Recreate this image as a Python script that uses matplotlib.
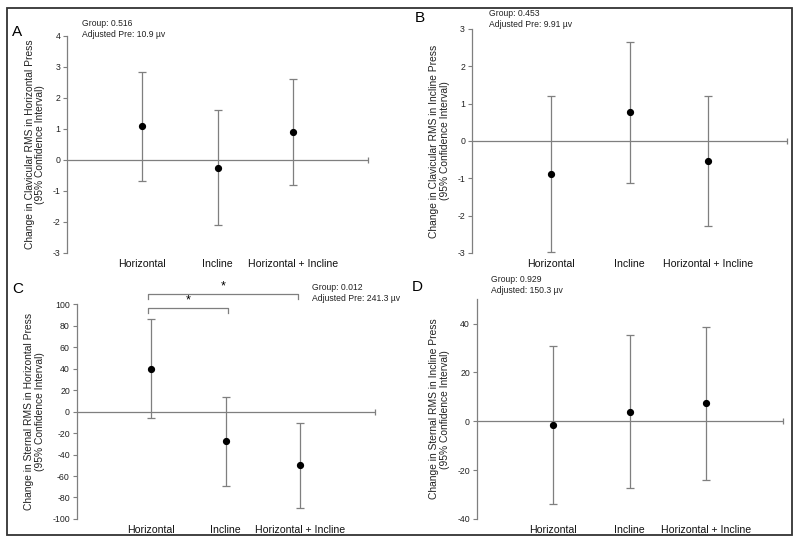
import numpy as np
import matplotlib
matplotlib.use('Agg')
import matplotlib.pyplot as plt
from matplotlib.patches import Rectangle

plt.rcParams['font.family'] = ['Liberation Sans', 'DejaVu Sans']
plt.rcParams['axes.unicode_minus'] = False

groups = ['Horizontal', 'Incline', 'Horizontal + Incline']

# A - clavicular RMS, horizontal press
a_mean = [1.1, -0.25, 0.9]
a_low = [-0.68, -2.1, -0.82]
a_high = [2.85, 1.6, 2.6]
# B - clavicular RMS, incline press
b_mean = [-0.88, 0.77, -0.55]
b_low = [-2.97, -1.12, -2.28]
b_high = [1.2, 2.65, 1.2]
# C - sternal RMS, horizontal press
c_mean = [40, -27.5, -50]
c_low = [-6, -69, -90]
c_high = [86, 13.5, -11]
# D - sternal RMS, incline press
d_mean = [-1.5, 3.7, 7.3]
d_low = [-34, -27.5, -24]
d_high = [31, 35.3, 38.8]

grey = '#7f7f7f'
x = np.arange(1, 4)

fig = plt.figure(figsize=(8, 5.44), dpi=100)
fig.patches.append(Rectangle((0.009, 0.0165), 0.981, 0.969, transform=fig.transFigure,
                             fill=False, edgecolor='#333333', linewidth=1.3))


def panel(rect, mean, low, high, yticks, ylim, ylabel, letter, letter_xy, note, note_xy):
    ax = fig.add_axes(rect)
    mean = np.array(mean)
    err = [mean - np.array(low), np.array(high) - mean]
    ax.axhline(0, xmin=0, xmax=1, color=grey, lw=0.9, zorder=1)
    ax.plot([4], [0], marker='|', ms=5, color=grey, mew=0.9, clip_on=False)
    ax.errorbar(x, mean, yerr=err, fmt='o', color='black', ms=4.2, ecolor=grey,
                elinewidth=0.9, capsize=3, capthick=0.9, zorder=3)
    ax.set_xlim(0, 4)
    ax.set_ylim(*ylim)
    ax.set_yticks(yticks)
    ax.set_xticks(x)
    ax.set_xticklabels(groups, fontsize=7.6)
    ax.tick_params(axis='x', length=0, pad=4, colors='#111111')
    ax.tick_params(axis='y', length=3, width=0.8, color=grey, labelsize=6.3, labelcolor='#222222', pad=2)
    for s in ['top', 'right', 'bottom']:
        ax.spines[s].set_visible(False)
    ax.spines['left'].set_color(grey)
    ax.spines['left'].set_linewidth(0.9)
    ax.set_ylabel(ylabel, fontsize=7.35, color='#222222', linespacing=1.1, labelpad=5)
    fig.text(letter_xy[0], letter_xy[1], letter, fontsize=11, ha='left', va='center')
    fig.text(note_xy[0], note_xy[1], note, fontsize=6.2, ha='left', va='top',
             color='#222222', linespacing=1.25)
    return ax


panel([0.084, 0.535, 0.376, 0.399], a_mean, a_low, a_high, range(-3, 5), (-3, 4),
      'Change in Clavicular RMS in Horizontal Press\n(95% Confidence Interval)',
      'A', (0.015, 1 - 32 / 544), 'Group: 0.516\nAdjusted Pre: 10.9 µv', (0.102, 1 - 19 / 544))

panel([0.59, 0.535, 0.394, 0.412], b_mean, b_low, b_high, range(-3, 4), (-3, 3),
      'Change in Clavicular RMS in Incline Press\n(95% Confidence Interval)',
      'B', (0.518, 1 - 18 / 544), 'Group: 0.453\nAdjusted Pre: 9.91 µv', (0.611, 1 - 9 / 544))

axc = panel([0.096, 0.046, 0.3725, 0.395], c_mean, c_low, c_high, range(-100, 101, 20), (-100, 100),
            'Change in Sternal RMS in Horizontal Press\n(95% Confidence Interval)',
            'C', (0.015, 1 - 289 / 544), 'Group: 0.012\nAdjusted Pre: 241.3 µv', (0.39, 1 - 283 / 544))

panel([0.596, 0.046, 0.3825, 0.404], d_mean, d_low, d_high, range(-40, 41, 20), (-40, 50),
      'Change in Sternal RMS in Incline Press\n(95% Confidence Interval)',
      'D', (0.515, 1 - 287 / 544), 'Group: 0.929\nAdjusted: 150.3 µv', (0.614, 1 - 275 / 544))

# significance brackets in C
brackets = [(0.95, 2.03, 96, 92), (0.95, 2.97, 109, 105)]
for x0, x1, yb, yt in brackets:
    axc.plot([x0, x0, x1, x1], [yt, yb, yb, yt], color=grey, lw=0.9, clip_on=False)
    axc.text((x0 + x1) / 2, yb + 1.5, '*', ha='center', va='bottom', fontsize=9, clip_on=False)

fig.savefig('out.png', dpi=100)
